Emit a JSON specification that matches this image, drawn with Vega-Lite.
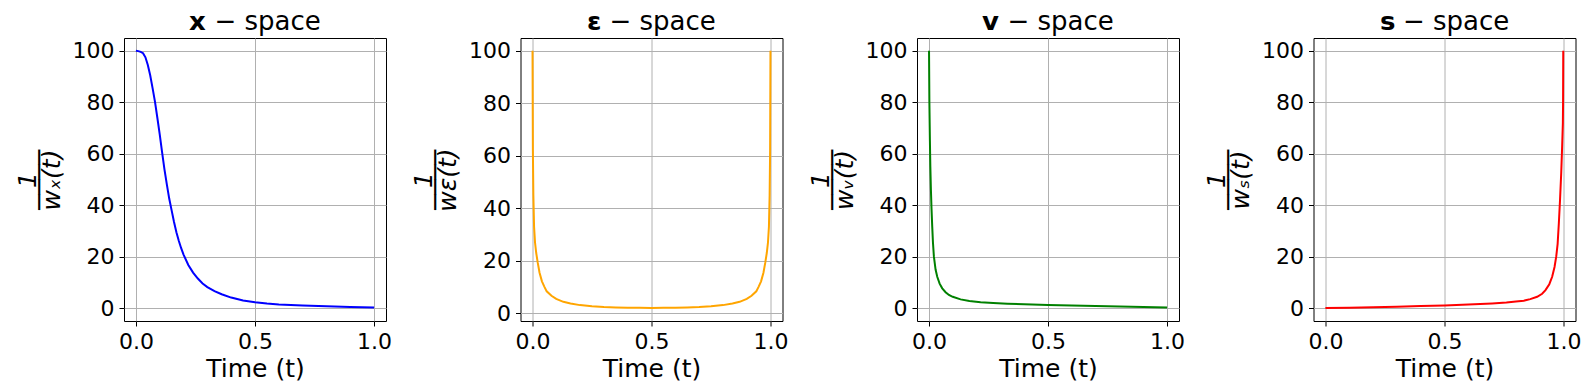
{
  "$schema": "https://vega.github.io/schema/vega-lite/v6.json",
  "background": "white",
  "padding": {"left": 14, "top": 8, "right": 5, "bottom": 5},
  "spacing": 134.5,
  "bounds": "flush",
  "config": {
    "font": "DejaVu Sans",
    "view": {"stroke": "black", "strokeWidth": 1},
    "title": {"font": "DejaVu Sans", "fontSize": 26, "fontWeight": "normal", "color": "black", "offset": 3, "anchor": "middle"},
    "axis": {
      "labelFont": "DejaVu Sans", "labelFontSize": 22, "labelColor": "black",
      "titleFont": "DejaVu Sans", "titleFontSize": 25, "titleFontWeight": "normal", "titleColor": "black",
      "titleLineHeight": 12,
      "tickColor": "black", "tickSize": 5, "tickWidth": 1,
      "gridColor": "#b0b0b0", "gridWidth": 1, "gridOpacity": 1,
      "domain": false, "labelPadding": 5
    },
    "axisX": {"titlePadding": 4},
    "axisY": {"titleFontStyle": "italic", "titlePadding": 8}
  },
  "datasets": {
    "xs": [
      {"t": 0, "v": 100}, {"t": 0.01, "v": 99.9}, {"t": 0.02, "v": 99.6}, {"t": 0.03, "v": 99.1}, {"t": 0.04, "v": 97.5},
      {"t": 0.05, "v": 94.5}, {"t": 0.06, "v": 90.5}, {"t": 0.07, "v": 85.5}, {"t": 0.08, "v": 80.3}, {"t": 0.09, "v": 74},
      {"t": 0.1, "v": 67.5}, {"t": 0.11, "v": 60.5}, {"t": 0.12, "v": 53.8}, {"t": 0.13, "v": 48}, {"t": 0.14, "v": 42.5},
      {"t": 0.15, "v": 38}, {"t": 0.16, "v": 33.5}, {"t": 0.17, "v": 29.5}, {"t": 0.18, "v": 26.2}, {"t": 0.19, "v": 23.3},
      {"t": 0.2, "v": 20.8}, {"t": 0.22, "v": 16.8}, {"t": 0.24, "v": 13.8}, {"t": 0.26, "v": 11.5}, {"t": 0.28, "v": 9.6},
      {"t": 0.3, "v": 8.2}, {"t": 0.33, "v": 6.6}, {"t": 0.36, "v": 5.4}, {"t": 0.4, "v": 4.1}, {"t": 0.45, "v": 3.0},
      {"t": 0.5, "v": 2.3}, {"t": 0.55, "v": 1.8}, {"t": 0.6, "v": 1.45}, {"t": 0.7, "v": 1.0}, {"t": 0.8, "v": 0.7},
      {"t": 0.9, "v": 0.45}, {"t": 1.0, "v": 0.25}
    ],
    "eps": [
      {"t": 0.0005, "v": 100}, {"t": 0.002, "v": 62}, {"t": 0.004, "v": 45}, {"t": 0.007, "v": 33}, {"t": 0.011, "v": 27},
      {"t": 0.016, "v": 23}, {"t": 0.022, "v": 19.5}, {"t": 0.03, "v": 15.5}, {"t": 0.04, "v": 12.2}, {"t": 0.05, "v": 10.2},
      {"t": 0.06, "v": 8.4}, {"t": 0.08, "v": 6.7}, {"t": 0.1, "v": 5.5}, {"t": 0.13, "v": 4.4}, {"t": 0.16, "v": 3.75},
      {"t": 0.2, "v": 3.15}, {"t": 0.25, "v": 2.7}, {"t": 0.3, "v": 2.42}, {"t": 0.35, "v": 2.25}, {"t": 0.4, "v": 2.15},
      {"t": 0.45, "v": 2.1}, {"t": 0.5, "v": 2.08},
      {"t": 0.55, "v": 2.1}, {"t": 0.6, "v": 2.15}, {"t": 0.65, "v": 2.25}, {"t": 0.7, "v": 2.42}, {"t": 0.75, "v": 2.7},
      {"t": 0.8, "v": 3.15}, {"t": 0.84, "v": 3.75}, {"t": 0.87, "v": 4.4}, {"t": 0.9, "v": 5.5}, {"t": 0.92, "v": 6.7},
      {"t": 0.94, "v": 8.4}, {"t": 0.95, "v": 10.2}, {"t": 0.96, "v": 12.2}, {"t": 0.97, "v": 15.5}, {"t": 0.978, "v": 19.5},
      {"t": 0.984, "v": 23}, {"t": 0.989, "v": 27}, {"t": 0.993, "v": 33}, {"t": 0.996, "v": 45}, {"t": 0.998, "v": 62},
      {"t": 0.9995, "v": 100}
    ],
    "vs": [
      {"t": 0.0005, "v": 100}, {"t": 0.002, "v": 80}, {"t": 0.0042, "v": 65}, {"t": 0.006, "v": 55}, {"t": 0.0084, "v": 46},
      {"t": 0.011, "v": 38.5}, {"t": 0.014, "v": 31.6}, {"t": 0.017, "v": 25.5}, {"t": 0.021, "v": 20}, {"t": 0.028, "v": 15},
      {"t": 0.035, "v": 12.2}, {"t": 0.045, "v": 9.5}, {"t": 0.056, "v": 7.7}, {"t": 0.07, "v": 6.2}, {"t": 0.084, "v": 5.1},
      {"t": 0.1, "v": 4.4}, {"t": 0.133, "v": 3.4}, {"t": 0.17, "v": 2.8}, {"t": 0.217, "v": 2.3}, {"t": 0.27, "v": 2.0},
      {"t": 0.33, "v": 1.75}, {"t": 0.4, "v": 1.5}, {"t": 0.5, "v": 1.25}, {"t": 0.6, "v": 1.0}, {"t": 0.7, "v": 0.8},
      {"t": 0.8, "v": 0.6}, {"t": 0.9, "v": 0.42}, {"t": 1.0, "v": 0.25}
    ],
    "ss": [
      {"t": 0, "v": 0.05}, {"t": 0.1, "v": 0.15}, {"t": 0.2, "v": 0.35}, {"t": 0.3, "v": 0.55}, {"t": 0.4, "v": 0.8},
      {"t": 0.5, "v": 1.05}, {"t": 0.6, "v": 1.4}, {"t": 0.65, "v": 1.6}, {"t": 0.7, "v": 1.85}, {"t": 0.76, "v": 2.2},
      {"t": 0.8, "v": 2.55}, {"t": 0.833, "v": 2.9}, {"t": 0.86, "v": 3.5}, {"t": 0.889, "v": 4.4}, {"t": 0.91, "v": 5.6},
      {"t": 0.924, "v": 7.0}, {"t": 0.94, "v": 9.3}, {"t": 0.952, "v": 12.2}, {"t": 0.962, "v": 16}, {"t": 0.969, "v": 20},
      {"t": 0.975, "v": 25}, {"t": 0.98, "v": 32.9}, {"t": 0.985, "v": 42}, {"t": 0.99, "v": 52.4}, {"t": 0.994, "v": 63},
      {"t": 0.997, "v": 72}, {"t": 0.9978, "v": 80}, {"t": 0.9986, "v": 100}
    ]
  },
  "hconcat": [
    {
      "width": 262, "height": 283,
      "title": "𝘅 − space",
      "data": {"name": "xs"},
      "mark": {"type": "line", "color": "#0000ff", "strokeWidth": 2},
      "encoding": {
        "x": {"field": "t", "type": "quantitative", "scale": {"domain": [-0.05, 1.05], "nice": false, "zero": false},
              "axis": {"values": [0, 0.5, 1], "format": ".1f", "title": "Time (t)"}},
        "y": {"field": "v", "type": "quantitative", "scale": {"domain": [-5, 105], "nice": false, "zero": false},
              "axis": {"values": [0, 20, 40, 60, 80, 100], "title": ["1", "────", "wₓ(t)"]}}
      }
    },
    {
      "width": 262, "height": 283,
      "title": "𝝴 − space",
      "data": {"name": "eps"},
      "mark": {"type": "line", "color": "#ffa500", "strokeWidth": 2},
      "encoding": {
        "x": {"field": "t", "type": "quantitative", "scale": {"domain": [-0.05, 1.05], "nice": false, "zero": false},
              "axis": {"values": [0, 0.5, 1], "format": ".1f", "title": "Time (t)"}},
        "y": {"field": "v", "type": "quantitative", "scale": {"domain": [-2.9, 104.9], "nice": false, "zero": false},
              "axis": {"values": [0, 20, 40, 60, 80, 100], "title": ["1", "────", "wε(t)"]}}
      }
    },
    {
      "width": 262, "height": 283,
      "title": "𝘃 − space",
      "data": {"name": "vs"},
      "mark": {"type": "line", "color": "#008000", "strokeWidth": 2},
      "encoding": {
        "x": {"field": "t", "type": "quantitative", "scale": {"domain": [-0.05, 1.05], "nice": false, "zero": false},
              "axis": {"values": [0, 0.5, 1], "format": ".1f", "title": "Time (t)"}},
        "y": {"field": "v", "type": "quantitative", "scale": {"domain": [-5, 105], "nice": false, "zero": false},
              "axis": {"values": [0, 20, 40, 60, 80, 100], "title": ["1", "────", "wᵥ(t)"]}}
      }
    },
    {
      "width": 262, "height": 283,
      "title": "𝘀 − space",
      "data": {"name": "ss"},
      "mark": {"type": "line", "color": "#ff0000", "strokeWidth": 2},
      "encoding": {
        "x": {"field": "t", "type": "quantitative", "scale": {"domain": [-0.05, 1.05], "nice": false, "zero": false},
              "axis": {"values": [0, 0.5, 1], "format": ".1f", "title": "Time (t)"}},
        "y": {"field": "v", "type": "quantitative", "scale": {"domain": [-5, 105], "nice": false, "zero": false},
              "axis": {"values": [0, 20, 40, 60, 80, 100], "title": ["1", "────", "wₛ(t)"]}}
      }
    }
  ]
}
